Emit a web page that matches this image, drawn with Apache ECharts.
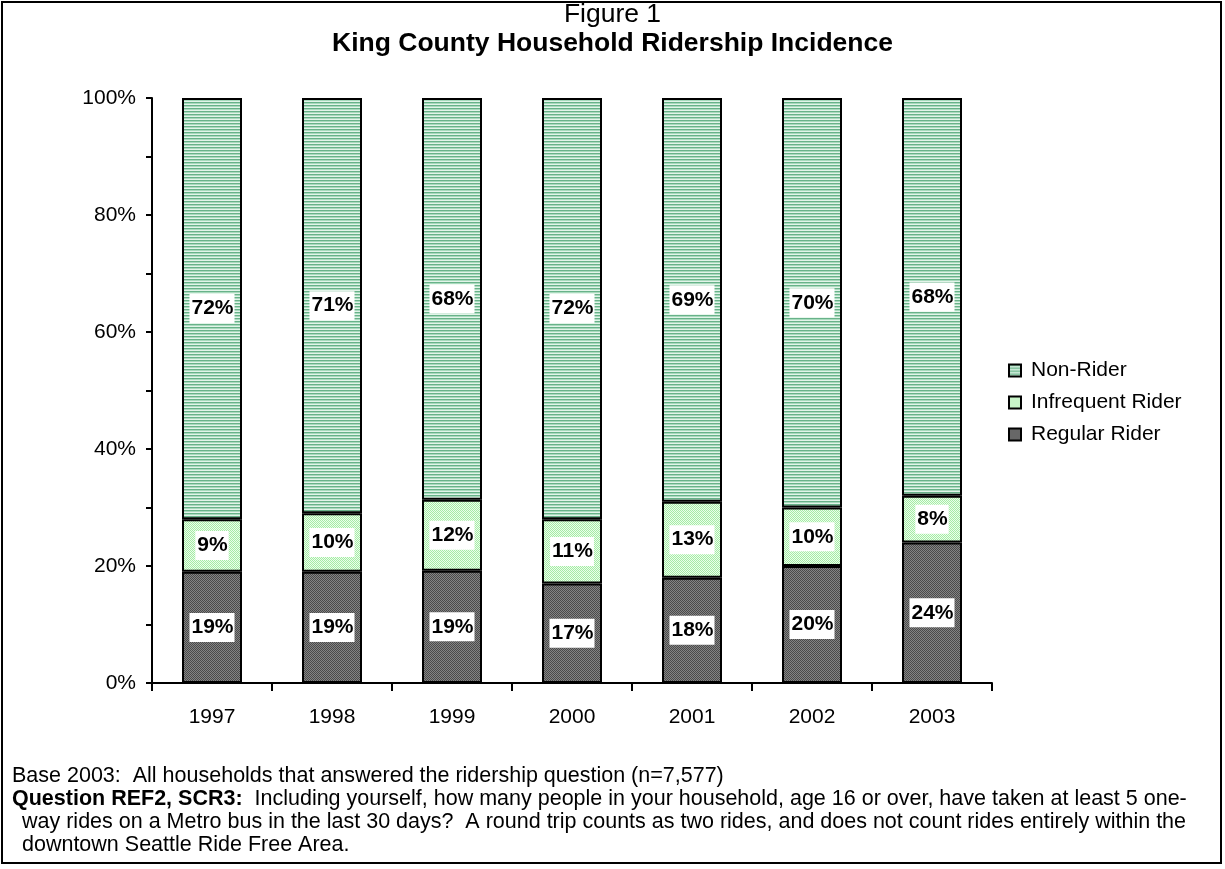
<!DOCTYPE html>
<html>
<head>
<meta charset="utf-8">
<title>King County Household Ridership Incidence</title>
<script src="https://cdn.jsdelivr.net/npm/echarts@6/dist/echarts.min.js"></script>
<style>
  html, body { margin: 0; padding: 0; background: #fff; }
  #chart { width: 1225px; height: 869px; }
</style>
</head>
<body>
<div id="chart"></div>
<script>
// Survey years
const years = ['1997', '1998', '1999', '2000', '2001', '2002', '2003'];
// Share of households (%) per ridership group
const regularRider = [19, 19, 19, 17, 18, 20, 24];
const infrequentRider = [9, 10, 12, 11, 13, 10, 8];
const nonRider = [72, 71, 68, 72, 69, 70, 68];
// Y axis ticks (every 10%, labelled every 20%)
const yTicks = [0, 10, 20, 30, 40, 50, 60, 70, 80, 90, 100];

const FONT = 'Arial, "Liberation Sans", sans-serif';

// Small tiled fills in the style of classic spreadsheet patterns
function makePattern(w, h, pixels) {
  const c = document.createElement('canvas');
  c.width = w; c.height = h;
  const ctx = c.getContext('2d');
  pixels.forEach(function (row, y) {
    row.forEach(function (col, x) {
      ctx.fillStyle = col;
      ctx.fillRect(x, y, 1, 1);
    });
  });
  return { image: c, repeat: 'repeat' };
}

const regularFill = makePattern(2, 2, [
  ['#4a4a4a', '#848484'],
  ['#848484', '#4a4a4a']
]);
const infrequentFill = makePattern(2, 2, [
  ['#a6eaa6', '#eaffea'],
  ['#eaffea', '#a6eaa6']
]);
const nonRiderFill = makePattern(1, 3, [
  ['#68b289'],
  ['#a8dabd'],
  ['#e2f4e9']
]);

// 100% stacked: each year's segments are scaled to its own total
const totals = years.map(function (_, i) {
  return regularRider[i] + infrequentRider[i] + nonRider[i];
});
function shares(values) {
  return values.map(function (v, i) {
    return { value: v * 100 / totals[i], raw: v };
  });
}

const labelStyle = {
  show: true,
  position: 'inside',
  color: '#000',
  fontFamily: FONT,
  fontWeight: 'bold',
  fontSize: 21,
  backgroundColor: '#fff',
  padding: [4, 1, 4, 2],
  formatter: function (p) { return p.data.raw + '%'; }
};

function barSeries(name, values, fill) {
  return {
    name: name,
    type: 'bar',
    stack: 'share',
    barWidth: '50%',
    data: shares(values),
    itemStyle: { color: fill, borderColor: '#000', borderWidth: 2 },
    label: labelStyle,
    emphasis: { disabled: true }
  };
}

const chart = echarts.init(document.getElementById('chart'), null, { renderer: 'canvas' });

chart.setOption({
  animation: false,
  backgroundColor: '#fff',
  textStyle: { fontFamily: FONT },
  grid: { left: 152, width: 840, top: 98, height: 585, containLabel: false, outerBoundsMode: 'none' },
  legend: {
    data: ['Non-Rider', 'Infrequent Rider', 'Regular Rider'],
    orient: 'vertical',
    left: 1008,
    top: 360,
    padding: 0,
    icon: 'rect',
    itemWidth: 12,
    itemHeight: 12,
    itemGap: 11,
    textStyle: { fontFamily: FONT, fontSize: 21, color: '#000', padding: [0, 0, 0, 5] },
    selectedMode: false
  },
  xAxis: {
    type: 'category',
    data: years,
    axisLine: { lineStyle: { color: '#000', width: 2 } },
    axisTick: { show: true, interval: 0, length: 8, lineStyle: { color: '#000', width: 2 } },
    axisLabel: { color: '#000', fontFamily: FONT, fontSize: 21, margin: 24, interval: 0 }
  },
  yAxis: {
    type: 'value',
    min: yTicks[0],
    max: yTicks[yTicks.length - 1],
    interval: yTicks[1] - yTicks[0],
    splitLine: { show: false },
    axisLine: { show: true, lineStyle: { color: '#000', width: 2 } },
    axisTick: { show: true, length: 6, lineStyle: { color: '#000', width: 2 } },
    axisLabel: {
      color: '#000',
      fontFamily: FONT,
      fontSize: 21,
      margin: 16,
      formatter: function (v) { return v % 20 === 0 ? v + '%' : ''; }
    }
  },
  series: [
    barSeries('Regular Rider', regularRider, regularFill),
    barSeries('Infrequent Rider', infrequentRider, infrequentFill),
    barSeries('Non-Rider', nonRider, nonRiderFill)
  ],
  graphic: [
    {
      type: 'rect',
      shape: { x: 2, y: 2, width: 1219, height: 861 },
      style: { fill: null, stroke: '#000', lineWidth: 2 },
      silent: true
    },
    {
      type: 'text', left: 'center', top: 1,
      style: { text: 'Figure 1', font: '26.5px ' + FONT, fill: '#000' }
    },
    {
      type: 'text', left: 'center', top: 30,
      style: { text: 'King County Household Ridership Incidence', font: 'bold 26.5px ' + FONT, fill: '#000' }
    },
    {
      type: 'text', left: 12, top: 765,
      style: { text: 'Base 2003:  All households that answered the ridership question (n=7,577)', font: '21.5px ' + FONT, fill: '#000' }
    },
    {
      type: 'text', left: 12, top: 788,
      style: {
        text: '{b|Question REF2, SCR3:}  Including yourself, how many people in your household, age 16 or over, have taken at least 5 one-',
        font: '21.5px ' + FONT, fill: '#000',
        rich: { b: { font: 'bold 21.5px ' + FONT, fill: '#000' } }
      }
    },
    {
      type: 'text', left: 22, top: 811,
      style: { text: 'way rides on a Metro bus in the last 30 days?  A round trip counts as two rides, and does not count rides entirely within the', font: '21.5px ' + FONT, fill: '#000' }
    },
    {
      type: 'text', left: 22, top: 834,
      style: { text: 'downtown Seattle Ride Free Area.', font: '21.5px ' + FONT, fill: '#000' }
    }
  ]
});
</script>
</body>
</html>
